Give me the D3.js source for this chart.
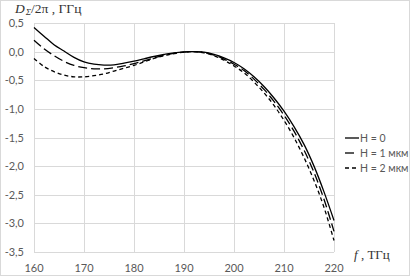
<!DOCTYPE html>
<html><head><meta charset="utf-8">
<script src="https://cdn.jsdelivr.net/npm/d3@7"></script>
<style>body{margin:0;background:#fff}svg{display:block}</style>
</head><body>
<svg id="c" width="415" height="277"></svg>
<script>
const freq = [160,162,164,166,168,170,172,174,176,178,180,182,184,186,188,190,192,194,196,198,200,202,204,206,208,210,212,214,216,218,220];
const h0 = [0.42,0.27,0.12,0.01,-0.10,-0.18,-0.22,-0.235,-0.23,-0.20,-0.165,-0.125,-0.085,-0.05,-0.02,-0.004,0,-0.01,-0.05,-0.11,-0.19,-0.30,-0.44,-0.61,-0.81,-1.04,-1.31,-1.62,-2.0,-2.45,-2.95];
const h1 = [0.20,0.05,-0.07,-0.17,-0.24,-0.28,-0.30,-0.30,-0.28,-0.25,-0.21,-0.16,-0.11,-0.065,-0.03,-0.008,0,-0.015,-0.06,-0.13,-0.22,-0.33,-0.48,-0.66,-0.87,-1.11,-1.39,-1.72,-2.11,-2.58,-3.14];
const h2 = [-0.12,-0.26,-0.35,-0.41,-0.44,-0.44,-0.42,-0.39,-0.34,-0.29,-0.24,-0.18,-0.12,-0.07,-0.035,-0.01,0,-0.02,-0.07,-0.15,-0.25,-0.37,-0.53,-0.72,-0.94,-1.20,-1.50,-1.85,-2.25,-2.72,-3.30];
const seriesNames = ["H = 0","H = 1 мкм","H = 2 мкм"];
const xTicks = [160,170,180,190,200,210,220];
const yTicks = [0.5,0,-0.5,-1,-1.5,-2,-2.5,-3,-3.5];

const svg = d3.select("#c");
const x = d3.scaleLinear().domain([160,220]).range([34,334]);
const y = d3.scaleLinear().domain([-3.5,0.5]).range([252,23]);
const fmt = v => d3.format(".1f")(v).replace(".",",").replace("−","-");

svg.append("rect").attr("x",0.5).attr("y",0.5).attr("width",409).attr("height",275)
  .attr("fill","#fff").attr("stroke","#d9d9d9");

const g = svg.append("g");
g.selectAll(".vg").data(xTicks).join("line")
  .attr("x1",d=>Math.round(x(d))+0.5).attr("x2",d=>Math.round(x(d))+0.5)
  .attr("y1",y(0.5)).attr("y2",y(-3.5)).attr("stroke","#d9d9d9");
g.selectAll(".hg").data(yTicks).join("line")
  .attr("y1",d=>Math.round(y(d))+0.5).attr("y2",d=>Math.round(y(d))+0.5)
  .attr("x1",x(160)).attr("x2",x(220)).attr("stroke","#d9d9d9");

const tf = "'Lato','Open Sans',sans-serif";
svg.selectAll(".yl").data(yTicks).join("text")
  .attr("x",24).attr("y",d=>y(d)+4).attr("text-anchor","end")
  .attr("font-family",tf).attr("font-size",11).attr("fill","#595959").text(fmt);
svg.selectAll(".xl").data(xTicks).join("text")
  .attr("x",d=>x(d)).attr("y",272).attr("text-anchor","middle")
  .attr("font-family",tf).attr("font-size",11).attr("fill","#595959").text(d=>d);

const dashes = [null,"9,4","4,3"];
const data = [h0,h1,h2];
const line = d3.line().x((d,i)=>x(freq[i])).y(d=>y(d)).curve(d3.curveCatmullRom);
data.forEach((s,k)=>{
  svg.append("path").attr("d",line(s)).attr("fill","none").attr("stroke","#000")
    .attr("stroke-width",1.3).attr("stroke-dasharray",dashes[k]);
});

// legend
const lg = svg.append("g");
seriesNames.forEach((n,k)=>{
  const yy = 138 + k*15;
  lg.append("line").attr("x1",345).attr("x2",359).attr("y1",yy).attr("y2",yy)
    .attr("stroke","#000").attr("stroke-width",1.3).attr("stroke-dasharray",k===0?null:(k===1?"9,5":"4,3"));
  lg.append("text").attr("x",360).attr("y",yy+4).attr("font-family",tf).attr("font-size",10.5)
    .attr("fill","#595959").text(n);
});

// axis titles
const yt = svg.append("text").attr("x",15).attr("y",13).attr("font-family","'Liberation Serif',serif")
  .attr("font-size",13.5).attr("fill","#333");
yt.append("tspan").attr("font-style","italic").text("D");
yt.append("tspan").attr("font-size",9).attr("dx",1).attr("dy",2).attr("font-style","italic").text("Σ");
yt.append("tspan").attr("dy",-2).text("/2π , ГГц");

const xt = svg.append("text").attr("x",354).attr("y",259).attr("font-family","'Liberation Serif',serif")
  .attr("font-size",13).attr("fill","#333");
xt.append("tspan").attr("font-style","italic").text("f");
xt.append("tspan").text(" , ТГц");
</script>
</body></html>
